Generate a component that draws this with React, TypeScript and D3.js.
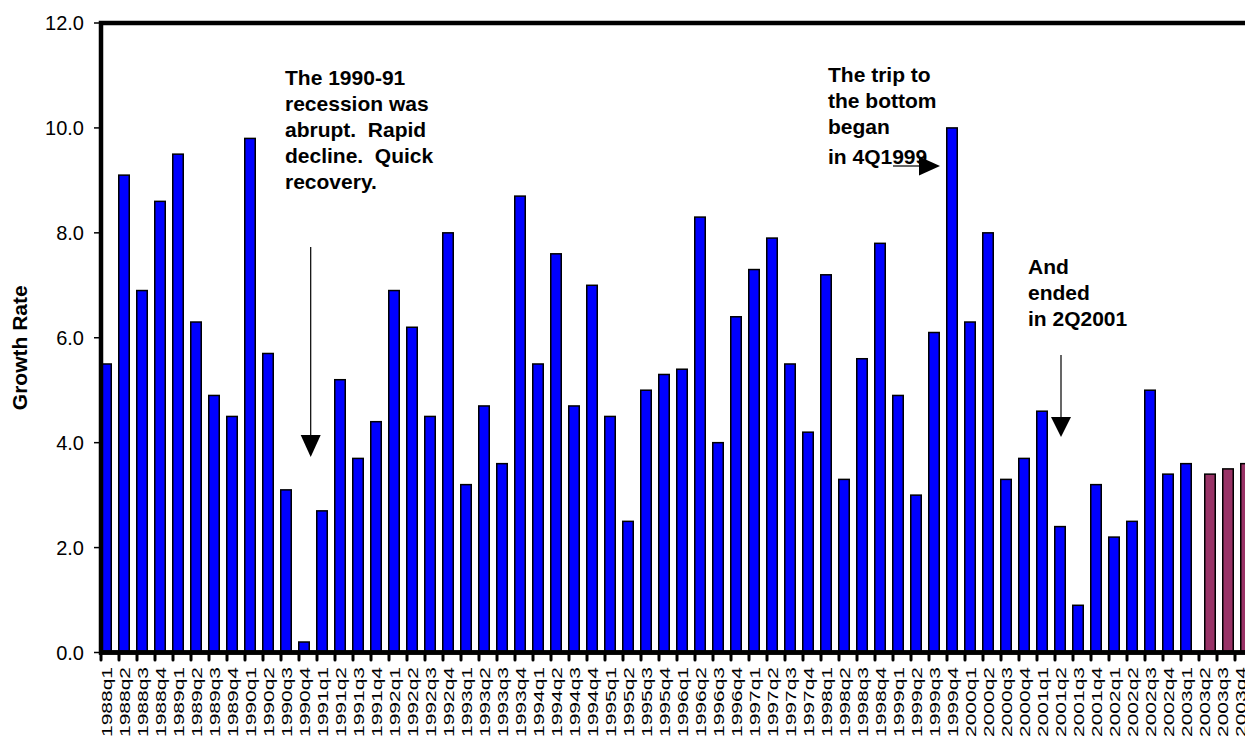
import React from 'react';
import * as d3 from 'd3';

// quarters 1988q1 .. 2003q4
const years: number[] = d3.range(1988, 2004);
const quarters: string[] = years.flatMap(y => [1, 2, 3, 4].map(q => `${y}q${q}`));

// actual growth (blue), ends at 2003q1
const actual: number[] = [
  5.5, 9.1, 6.9, 8.6,
  9.5, 6.3, 4.9, 4.5,
  9.8, 5.7, 3.1, 0.2,
  2.7, 5.2, 3.7, 4.4,
  6.9, 6.2, 4.5, 8.0,
  3.2, 4.7, 3.6, 8.7,
  5.5, 7.6, 4.7, 7.0,
  4.5, 2.5, 5.0, 5.3,
  5.4, 8.3, 4.0, 6.4,
  7.3, 7.9, 5.5, 4.2,
  7.2, 3.3, 5.6, 7.8,
  4.9, 3.0, 6.1, 10.0,
  6.3, 8.0, 3.3, 3.7,
  4.6, 2.4, 0.9, 3.2,
  2.2, 2.5, 5.0, 3.4,
  3.6,
];

// forecast (maroon) for the last three quarters
const forecastQuarters: string[] = ['2003q2', '2003q3', '2003q4'];
const forecast: number[] = [3.4, 3.5, 3.6];

const yTicks: number[] = [0, 2, 4, 6, 8, 10, 12];

const note1: string[] = ['The 1990-91', 'recession was', 'abrupt.  Rapid', 'decline.  Quick', 'recovery.'];
const note2: string[] = ['The trip to', 'the bottom', 'began', 'in 4Q1999'];
const note3: string[] = ['And', 'ended', 'in 2Q2001'];

const FONT = '"Liberation Sans", Arial, sans-serif';

const App = () => {
  const width = 1245;
  const height = 739;

  // plot box (right edge runs off the picture)
  const left = 100;
  const right = 1252;
  const top = 23;
  const bottom = 652.5;

  const x = d3.scaleBand<string>().domain(quarters).range([left, right]).padding(0);
  const y = d3.scaleLinear().domain([0, 12]).range([bottom, top]);

  const bw = x.bandwidth();
  const barW = bw * 2 / 3;
  const shift = bw - barW; // second series overlaps the first by half

  const actualData = actual.map((v, i) => ({ q: quarters[i], v }));
  const forecastData = forecast.map((v, i) => ({ q: forecastQuarters[i], v }));

  const a1x = (x('1990q4') as number) + 12.7;
  const a3x = (x('2001q2') as number) + 7;
  const a2tip = (x('1999q4') as number) - 6;

  return (
    <div style={{ position: 'fixed', left: 0, top: 0, width, height, overflow: 'hidden', background: '#fff' }}>
      <svg width={width} height={height} style={{ display: 'block' }} fontFamily={FONT}>
        <rect width={width} height={height} fill="#fff" />

        {/* bars */}
        {actualData.map(d => (
          <rect key={'a' + d.q}
            x={(x(d.q) as number) + 0.75}
            y={y(d.v)}
            width={barW - 1.5}
            height={bottom - y(d.v)}
            fill="#0000FF" stroke="#000" strokeWidth={1.5} />
        ))}
        {forecastData.map(d => (
          <rect key={'f' + d.q}
            x={(x(d.q) as number) + shift + 0.75}
            y={y(d.v)}
            width={barW - 1.5}
            height={bottom - y(d.v)}
            fill="#993366" stroke="#000" strokeWidth={1.5} />
        ))}

        {/* plot border, thick like the original */}
        <rect x={left + 1} y={top} width={right - left} height={bottom - top} fill="none" stroke="#000" strokeWidth={4.5} />
        <line x1={left - 1} x2={right} y1={bottom} y2={bottom} stroke="#000" strokeWidth={4.5} />

        {/* y axis */}
        {yTicks.map(t => (
          <g key={t}>
            <line x1={94} x2={left} y1={y(t)} y2={y(t)} stroke="#000" strokeWidth={1.5} />
            <text x={84} y={y(t)} dy="0.35em" textAnchor="end" fontSize={20} fill="#000">
              {d3.format('.1f')(t)}
            </text>
          </g>
        ))}
        <text transform={`translate(27,${(top + bottom) / 2 + 10}) rotate(-90)`} textAnchor="middle"
          fontSize={21} fontWeight="bold" fill="#000">Growth Rate</text>

        {/* x axis ticks + labels */}
        {quarters.map(q => (
          <g key={q}>
            <line x1={(x(q) as number) + 1} x2={(x(q) as number) + 1} y1={bottom} y2={660}
              stroke="#000" strokeWidth={3} strokeLinecap="round" />
            <text transform={`translate(${(x(q) as number) + 12.3},667) rotate(-90)`} textAnchor="end"
              fontSize={14.5} textLength={70} lengthAdjust="spacingAndGlyphs" fill="#000">{q}</text>
          </g>
        ))}

        {/* annotations */}
        <g fontSize={21} fontWeight="bold" fill="#000">
          {note1.map((s, i) => (
            <text key={s} x={285} y={85 + i * 26} style={{ whiteSpace: 'pre' }}>{s}</text>
          ))}
          {note2.map((s, i) => (
            <text key={s} x={828} y={[82, 108, 134, 164][i]}>{s}</text>
          ))}
          {note3.map((s, i) => (
            <text key={s} x={1028} y={274 + i * 26}>{s}</text>
          ))}
        </g>

        {/* arrows */}
        <line x1={a1x} x2={a1x} y1={247} y2={437} stroke="#000" strokeWidth={1.2} />
        <polygon points={`${a1x - 10},435 ${a1x + 10},435 ${a1x},457`} fill="#000" />

        <line x1={893} x2={a2tip - 18} y1={166} y2={166} stroke="#000" strokeWidth={1.2} />
        <polygon points={`${a2tip - 21},156.5 ${a2tip - 21},175.5 ${a2tip},166`} fill="#000" />

        <line x1={a3x} x2={a3x} y1={355} y2={418} stroke="#000" strokeWidth={1.2} />
        <polygon points={`${a3x - 10},417 ${a3x + 10},417 ${a3x},437`} fill="#000" />
      </svg>
    </div>
  );
};

export default App;
